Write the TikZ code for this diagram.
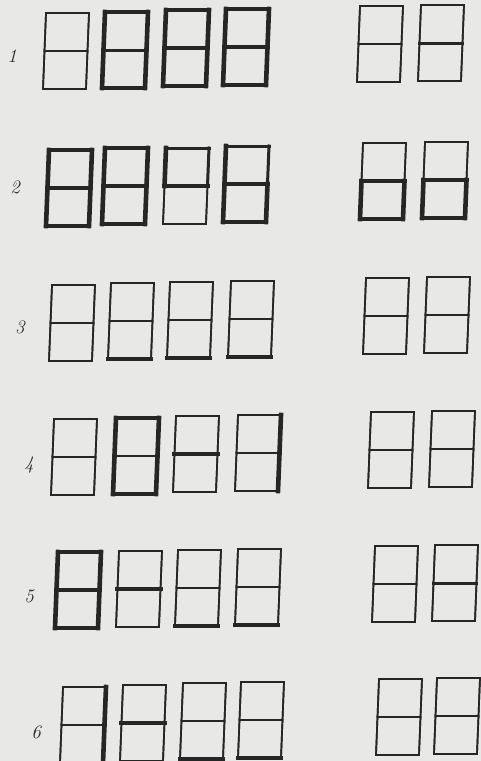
\documentclass[tikz,border=0pt]{standalone}
\usepackage{tikz}
\definecolor{Ink}{HTML}{262626}
\definecolor{Paper}{HTML}{E8E8E6}
\tikzset{
  s0/.style={line width=1.7pt},
  s1/.style={line width=4.6pt},
  s2/.style={line width=3pt},
  pics/cell/.style n args={7}{code={
    \coordinate (-tl) at (3,0);    \coordinate (-tr) at (46,0);
    \coordinate (-ml) at (1.5,38); \coordinate (-mr) at (44.5,38);
    \coordinate (-bl) at (0,76);   \coordinate (-br) at (43,76);
    \draw[s0] (-tl) -- (-tr) -- (-br) -- (-bl) -- cycle;
    \draw[s#1] (-tl) -- (-tr);
    \draw[s#2] (-tl) -- (-ml);
    \draw[s#3] (-tr) -- (-mr);
    \draw[s#4] (-ml) -- (-mr);
    \draw[s#5] (-ml) -- (-bl);
    \draw[s#6] (-mr) -- (-br);
    \draw[s#7] (-bl) -- (-br);
  }}
}
\begin{document}
\begin{tikzpicture}[x=1pt,y=-1pt,draw=Ink,line cap=rect,line join=miter,
    num/.style={font=\fontsize{19}{19}\selectfont\itshape,text=Ink,inner sep=0pt}]
  \useasboundingbox (0,0) rectangle (481,761);
  \fill[Paper] (0,0) rectangle (481,761);
  % row 1
  \node[num] (n1) at (12,56) {1};
  \pic (r1b1) at (43,13) {cell={0}{0}{0}{0}{0}{0}{0}};
  \pic (r1b2) at (102,12) {cell={1}{1}{1}{2}{1}{1}{1}};
  \pic (r1b3) at (163,10) {cell={1}{1}{1}{1}{1}{1}{1}};
  \pic (r1b4) at (223,9) {cell={1}{1}{1}{1}{1}{1}{1}};
  \pic (r1a1) at (357,6) {cell={0}{0}{0}{0}{0}{0}{0}};
  \pic (r1a2) at (418,5) {cell={0}{0}{0}{2}{0}{0}{0}};
  % row 2
  \node[num] (n2) at (15,187) {2};
  \pic (r2b1) at (46,150) {cell={1}{1}{1}{1}{1}{1}{1}};
  \pic (r2b2) at (102,148) {cell={1}{1}{1}{1}{1}{1}{1}};
  \pic (r2b3) at (163,148) {cell={2}{1}{2}{1}{0}{0}{0}};
  \pic (r2b4) at (223,146) {cell={2}{1}{2}{1}{1}{1}{1}};
  \pic (r2a1) at (360,143) {cell={0}{0}{0}{1}{1}{1}{1}};
  \pic (r2a2) at (422,142) {cell={0}{0}{0}{1}{1}{1}{1}};
  % row 3
  \node[num] (n3) at (20,327) {3};
  \pic (r3b1) at (49,285) {cell={0}{0}{0}{0}{0}{0}{0}};
  \pic (r3b2) at (108,283) {cell={0}{0}{0}{0}{0}{0}{1}};
  \pic (r3b3) at (167,282) {cell={0}{0}{0}{0}{0}{0}{1}};
  \pic (r3b4) at (228,281) {cell={0}{0}{0}{0}{0}{0}{1}};
  \pic (r3a1) at (363,278) {cell={0}{0}{0}{0}{0}{0}{0}};
  \pic (r3a2) at (424,277) {cell={0}{0}{0}{0}{0}{0}{0}};
  % row 4
  \node[num] (n4) at (29,465) {4};
  \pic (r4b1) at (51,419) {cell={0}{0}{0}{0}{0}{0}{0}};
  \pic (r4b2) at (113,418) {cell={1}{1}{1}{0}{1}{1}{1}};
  \pic (r4b3) at (173,416) {cell={0}{0}{0}{1}{0}{0}{0}};
  \pic (r4b4) at (235,415) {cell={0}{0}{1}{0}{0}{1}{0}};
  \pic (r4a1) at (368,412) {cell={0}{0}{0}{0}{0}{0}{0}};
  \pic (r4a2) at (429,411) {cell={0}{0}{0}{0}{0}{0}{0}};
  % row 5
  \node[num] (n5) at (29,596) {5};
  \pic (r5b1) at (55,552) {cell={1}{1}{1}{1}{1}{1}{1}};
  \pic (r5b2) at (116,551) {cell={0}{0}{0}{1}{0}{0}{0}};
  \pic (r5b3) at (175,550) {cell={0}{0}{0}{0}{0}{0}{1}};
  \pic (r5b4) at (235,549) {cell={0}{0}{0}{0}{0}{0}{1}};
  \pic (r5a1) at (372,546) {cell={0}{0}{0}{0}{0}{0}{0}};
  \pic (r5a2) at (432,545) {cell={0}{0}{0}{2}{0}{0}{0}};
  % row 6
  \node[num] (n6) at (36,732) {6};
  \pic (r6b1) at (60,687) {cell={0}{0}{1}{0}{0}{1}{0}};
  \pic (r6b2) at (120,685) {cell={0}{0}{0}{1}{0}{0}{0}};
  \pic (r6b3) at (180,683) {cell={0}{0}{0}{0}{0}{0}{1}};
  \pic (r6b4) at (238,682) {cell={0}{0}{0}{0}{0}{0}{1}};
  \pic (r6a1) at (376,679) {cell={0}{0}{0}{0}{0}{0}{0}};
  \pic (r6a2) at (434,678) {cell={0}{0}{0}{0}{0}{0}{0}};
\end{tikzpicture}
\end{document}
